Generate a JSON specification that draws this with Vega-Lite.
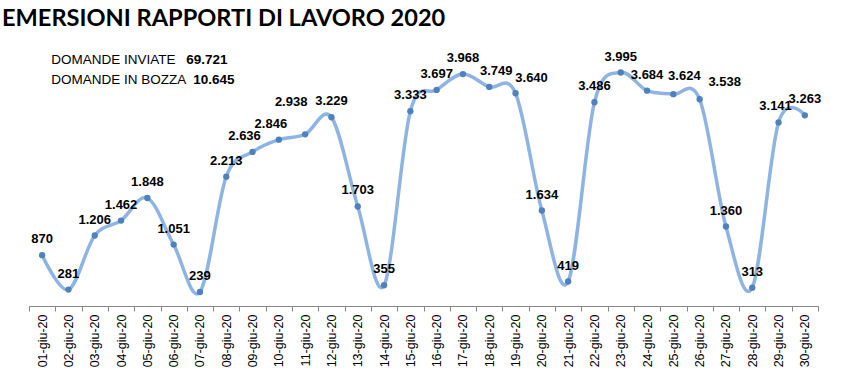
{
  "$schema": "https://vega.github.io/schema/vega-lite/v6.json",
  "width": 789,
  "height": 263,
  "autosize": "none",
  "padding": {"left": 29, "top": 43, "right": 38, "bottom": 74},
  "background": "white",
  "title": {
    "text": "EMERSIONI RAPPORTI DI LAVORO 2020",
    "anchor": "start",
    "font": "Lato",
    "fontSize": 23.6,
    "fontWeight": "bold",
    "color": "black",
    "dx": -21,
    "offset": 12
  },
  "data": {
    "values": [
      {"date": "01-giu-20", "value": 870},
      {"date": "02-giu-20", "value": 281},
      {"date": "03-giu-20", "value": 1206},
      {"date": "04-giu-20", "value": 1462},
      {"date": "05-giu-20", "value": 1848},
      {"date": "06-giu-20", "value": 1051},
      {"date": "07-giu-20", "value": 239},
      {"date": "08-giu-20", "value": 2213},
      {"date": "09-giu-20", "value": 2636},
      {"date": "10-giu-20", "value": 2846},
      {"date": "11-giu-20", "value": 2938},
      {"date": "12-giu-20", "value": 3229},
      {"date": "13-giu-20", "value": 1703},
      {"date": "14-giu-20", "value": 355},
      {"date": "15-giu-20", "value": 3333},
      {"date": "16-giu-20", "value": 3697},
      {"date": "17-giu-20", "value": 3968},
      {"date": "18-giu-20", "value": 3749},
      {"date": "19-giu-20", "value": 3640},
      {"date": "20-giu-20", "value": 1634},
      {"date": "21-giu-20", "value": 419},
      {"date": "22-giu-20", "value": 3486},
      {"date": "23-giu-20", "value": 3995},
      {"date": "24-giu-20", "value": 3684},
      {"date": "25-giu-20", "value": 3624},
      {"date": "26-giu-20", "value": 3538},
      {"date": "27-giu-20", "value": 1360},
      {"date": "28-giu-20", "value": 313},
      {"date": "29-giu-20", "value": 3141},
      {"date": "30-giu-20", "value": 3263}
    ]
  },
  "encoding": {
    "x": {
      "field": "date",
      "type": "ordinal",
      "sort": null,
      "scale": {"type": "band", "paddingInner": 0, "paddingOuter": 0},
      "axis": {
        "title": null,
        "labelAngle": -90,
        "labelFont": "Liberation Sans",
        "labelFontSize": 12.5,
        "labelColor": "black",
        "domainColor": "#868686",
        "tickColor": "#868686",
        "tickSize": 5,
        "tickBand": "extent",
        "labelPadding": 3,
        "grid": false
      }
    },
    "y": {
      "field": "value",
      "type": "quantitative",
      "scale": {"domain": [0, 4500], "nice": false},
      "axis": null
    }
  },
  "layer": [
    {
      "mark": {"type": "line", "interpolate": "cardinal", "color": "#8EB4E3", "strokeWidth": 3.5}
    },
    {
      "mark": {"type": "point", "filled": true, "color": "#4F81BD", "size": 40, "opacity": 1}
    },
    {
      "transform": [{"filter": {"not": {"field": "date", "oneOf": ["09-giu-20", "10-giu-20", "11-giu-20", "18-giu-20", "19-giu-20", "25-giu-20", "26-giu-20", "29-giu-20"]}}}],
      "mark": {"type": "text", "font": "Liberation Sans", "fontWeight": "bold", "fontSize": 13, "color": "black", "dy": -16, "baseline": "middle"},
      "encoding": {"text": {"field": "value", "type": "quantitative", "format": ",d"}}
    },
    {
      "transform": [{"filter": {"field": "date", "oneOf": ["09-giu-20", "10-giu-20"]}}],
      "mark": {"type": "text", "font": "Liberation Sans", "fontWeight": "bold", "fontSize": 13, "color": "black", "dx": -8, "dy": -16, "baseline": "middle"},
      "encoding": {"text": {"field": "value", "type": "quantitative", "format": ",d"}}
    },
    {
      "transform": [{"filter": {"field": "date", "equal": "11-giu-20"}}],
      "mark": {"type": "text", "font": "Liberation Sans", "fontWeight": "bold", "fontSize": 13, "color": "black", "dx": -14, "dy": -32, "baseline": "middle"},
      "encoding": {"text": {"field": "value", "type": "quantitative", "format": ",d"}}
    },
    {
      "transform": [{"filter": {"field": "date", "equal": "18-giu-20"}}],
      "mark": {"type": "text", "font": "Liberation Sans", "fontWeight": "bold", "fontSize": 13, "color": "black", "dx": 7, "dy": -16, "baseline": "middle"},
      "encoding": {"text": {"field": "value", "type": "quantitative", "format": ",d"}}
    },
    {
      "transform": [{"filter": {"field": "date", "equal": "19-giu-20"}}],
      "mark": {"type": "text", "font": "Liberation Sans", "fontWeight": "bold", "fontSize": 13, "color": "black", "dx": 16, "dy": -15, "baseline": "middle"},
      "encoding": {"text": {"field": "value", "type": "quantitative", "format": ",d"}}
    },
    {
      "transform": [{"filter": {"field": "date", "equal": "25-giu-20"}}],
      "mark": {"type": "text", "font": "Liberation Sans", "fontWeight": "bold", "fontSize": 13, "color": "black", "dx": 11, "dy": -18, "baseline": "middle"},
      "encoding": {"text": {"field": "value", "type": "quantitative", "format": ",d"}}
    },
    {
      "transform": [{"filter": {"field": "date", "equal": "26-giu-20"}}],
      "mark": {"type": "text", "font": "Liberation Sans", "fontWeight": "bold", "fontSize": 13, "color": "black", "dx": 25, "dy": -17, "baseline": "middle"},
      "encoding": {"text": {"field": "value", "type": "quantitative", "format": ",d"}}
    },
    {
      "transform": [{"filter": {"field": "date", "equal": "29-giu-20"}}],
      "mark": {"type": "text", "font": "Liberation Sans", "fontWeight": "bold", "fontSize": 13, "color": "black", "dx": -3, "dy": -16, "baseline": "middle"},
      "encoding": {"text": {"field": "value", "type": "quantitative", "format": ",d"}}
    },
    {
      "transform": [{"filter": {"field": "date", "equal": "01-giu-20"}}],
      "mark": {"type": "text", "font": "Liberation Sans", "fontSize": 13.5, "color": "black", "align": "left", "baseline": "middle", "dx": 9, "text": "DOMANDE INVIATE"},
      "encoding": {"y": {"datum": 4217}}
    },
    {
      "transform": [{"filter": {"field": "date", "equal": "01-giu-20"}}],
      "mark": {"type": "text", "font": "Liberation Sans", "fontSize": 13.5, "fontWeight": "bold", "color": "black", "align": "left", "baseline": "middle", "dx": 144, "text": "69.721"},
      "encoding": {"y": {"datum": 4217}}
    },
    {
      "transform": [{"filter": {"field": "date", "equal": "01-giu-20"}}],
      "mark": {"type": "text", "font": "Liberation Sans", "fontSize": 13.5, "color": "black", "align": "left", "baseline": "middle", "dx": 9, "text": "DOMANDE IN BOZZA"},
      "encoding": {"y": {"datum": 3874}}
    },
    {
      "transform": [{"filter": {"field": "date", "equal": "01-giu-20"}}],
      "mark": {"type": "text", "font": "Liberation Sans", "fontSize": 13.5, "fontWeight": "bold", "color": "black", "align": "left", "baseline": "middle", "dx": 151, "text": "10.645"},
      "encoding": {"y": {"datum": 3874}}
    }
  ],
  "config": {
    "view": {"stroke": null},
    "locale": {
      "number": {"decimal": ",", "thousands": ".", "grouping": [3], "currency": ["€", ""]}
    }
  }
}
